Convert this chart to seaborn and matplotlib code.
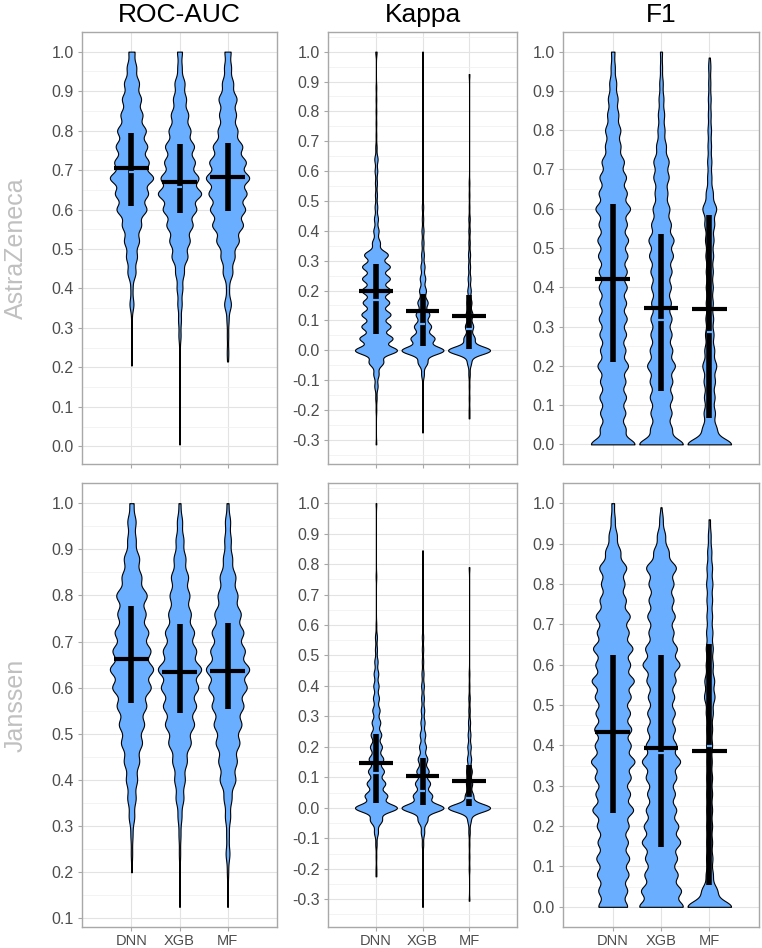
import numpy as np
import pandas as pd
import matplotlib
matplotlib.use("Agg")
import matplotlib.pyplot as plt
import seaborn as sns

sns.set_theme(style="white")
plt.rcParams['font.family'] = ['Liberation Sans', 'DejaVu Sans']
plt.rcParams['axes.unicode_minus'] = False

models = ["DNN", "XGB", "MF"]
metrics = ["ROC-AUC", "Kappa", "F1"]
companies = ["AstraZeneca", "Janssen"]

roc_az_levels = [0.00, 0.04, 0.08, 0.12, 0.16, 0.20, 0.24, 0.28, 0.32, 0.36, 0.40, 0.44, 0.48,
                 0.52, 0.56, 0.60, 0.64, 0.68, 0.72, 0.76, 0.80, 0.84, 0.88, 0.92, 0.96, 1.00]
roc_j_levels = [0.12, 0.16, 0.20, 0.24, 0.28, 0.32, 0.36, 0.40, 0.44, 0.48, 0.52, 0.56,
                0.60, 0.64, 0.68, 0.72, 0.76, 0.80, 0.84, 0.88, 0.92, 0.96, 1.00]
kappa_levels = [-0.32, -0.28, -0.24, -0.20, -0.16, -0.12, -0.08, -0.04, 0.00, 0.04, 0.08, 0.12,
                0.16, 0.20, 0.24, 0.28, 0.32, 0.36, 0.40, 0.44, 0.48, 0.52, 0.56, 0.60, 0.64,
                0.68, 0.72, 0.76, 0.80, 0.84, 0.88, 0.92, 0.96, 1.00]
f1_levels = [0.00, 0.04, 0.08, 0.12, 0.16, 0.20, 0.24, 0.28, 0.32, 0.36, 0.40, 0.44, 0.48,
             0.52, 0.56, 0.60, 0.64, 0.68, 0.72, 0.76, 0.80, 0.84, 0.88, 0.92, 0.96, 1.00]

# ---- AstraZeneca counts ----
az_roc_dnn = [0, 0, 0, 0, 0, 0, 1, 1, 1, 6, 3, 12, 16, 22, 28, 44, 48, 64, 50, 46, 42, 32, 28, 22, 14, 8]
az_roc_xgb = [0, 0, 0, 0, 0, 1, 1, 3, 4, 6, 8, 12, 22, 28, 36, 46, 60, 52, 42, 40, 30, 24, 18, 14, 6, 6]
az_roc_mf = [0, 0, 0, 0, 0, 0, 2, 2, 3, 10, 4, 14, 20, 32, 44, 50, 54, 62, 52, 42, 28, 24, 26, 16, 10, 8]
az_roc_min = [0.205, 0.005, 0.215]
az_roc_max = [1.0, 1.0, 1.0]

az_kappa_dnn = [0, 0, 0, 1, 2, 5, 8, 22, 64, 50, 44, 44, 40, 44, 42, 42, 36, 12, 8, 6, 4, 3, 3, 4, 5,
                2, 1, 1, 1, 1, 1, 0, 0, 1]
az_kappa_xgb = [0, 0, 0, 1, 1, 1, 4, 14, 62, 35, 25, 20, 15, 10, 8, 6, 4, 3, 3, 2, 2, 1, 1, 1, 1,
                0, 0, 0, 0, 0, 0, 0, 0, 0]
az_kappa_mf = [0, 0, 0, 1, 1, 1, 2, 6, 62, 16, 12, 10, 7, 5, 4, 3, 3, 2, 2, 2, 1, 1, 1, 0, 0,
               0, 0, 0, 0, 0, 0, 0, 0, 0]
az_kappa_min = [-0.315, -0.275, -0.228]
az_kappa_max = [1.0, 1.0, 0.925]

az_f1_dnn = [64, 36, 36, 38, 36, 44, 36, 38, 40, 38, 40, 40, 42, 44, 40, 50, 40, 38, 32, 22, 22, 16, 14, 10, 6, 4]
az_f1_xgb = [64, 30, 30, 32, 32, 40, 32, 30, 30, 28, 28, 30, 34, 36, 28, 24, 18, 22, 22, 14, 10, 9, 7, 5, 3, 2]
az_f1_mf = [64, 20, 16, 15, 16, 20, 14, 12, 11, 10, 10, 10, 11, 12, 14, 20, 10, 6, 6, 5, 5, 4, 4, 3, 3, 0]
az_f1_min = [0.0, 0.0, 0.0]
az_f1_max = [1.0, 1.0, 0.985]

# ---- Janssen counts ----
j_roc_dnn = [0, 0, 0, 2, 3, 8, 12, 16, 22, 30, 36, 42, 55, 62, 54, 48, 40, 44, 28, 22, 12, 12, 5]
j_roc_xgb = [0, 1, 1, 2, 3, 6, 12, 16, 22, 34, 44, 50, 56, 66, 50, 44, 34, 30, 26, 18, 12, 8, 2]
j_roc_mf = [0, 1, 2, 6, 4, 8, 12, 24, 28, 36, 42, 48, 58, 66, 52, 48, 40, 30, 24, 14, 10, 8, 2]
j_roc_min = [0.20, 0.125, 0.125]
j_roc_max = [1.0, 1.0, 1.0]

j_kappa_dnn = [0, 0, 0, 1, 1, 2, 6, 18, 64, 34, 28, 24, 22, 18, 16, 13, 11, 9, 8, 7, 5, 3, 3, 1, 0,
               0, 0, 1, 0, 0, 0, 0, 0, 0]
j_kappa_xgb = [0, 0, 1, 1, 1, 2, 5, 14, 62, 28, 22, 18, 14, 10, 8, 6, 5, 4, 4, 3, 2, 2, 2, 1, 0,
               0, 0, 0, 0, 0, 0, 0, 0, 0]
j_kappa_mf = [0, 0, 0, 1, 1, 1, 2, 5, 62, 12, 9, 8, 6, 5, 4, 3, 2, 2, 1, 1, 0, 0, 0, 0, 0,
              0, 0, 0, 0, 0, 0, 0, 0, 0]
j_kappa_min = [-0.225, -0.325, -0.305]
j_kappa_max = [1.0, 0.845, 0.79]

j_f1_dnn = [42, 42, 46, 48, 44, 46, 60, 50, 52, 64, 52, 54, 50, 52, 62, 50, 58, 46, 50, 38, 34, 40, 22, 12, 6, 3]
j_f1_xgb = [64, 58, 48, 46, 56, 50, 44, 40, 44, 56, 44, 40, 40, 38, 42, 54, 46, 36, 40, 36, 36, 44, 22, 12, 5, 0]
j_f1_mf = [64, 22, 10, 9, 8, 8, 8, 8, 8, 7, 8, 8, 10, 15, 14, 10, 10, 9, 8, 8, 9, 8, 6, 4, 1, 0]
j_f1_min = [0.0, 0.0, 0.0]
j_f1_max = [1.0, 0.99, 0.96]

# ---- summary marks: mean (black cross line), mean +/- sd (black bar), median (light tick) ----
az_roc_mean = [0.705, 0.670, 0.683]
az_roc_lo = [0.610, 0.590, 0.597]
az_roc_hi = [0.795, 0.765, 0.768]
az_roc_med = [0.695, 0.658, 0.683]
az_kappa_mean = [0.198, 0.133, 0.115]
az_kappa_lo = [0.055, 0.015, 0.005]
az_kappa_hi = [0.290, 0.190, 0.185]
az_kappa_med = [0.168, 0.087, 0.070]
az_f1_mean = [0.420, 0.348, 0.345]
az_f1_lo = [0.210, 0.135, 0.068]
az_f1_hi = [0.612, 0.535, 0.583]
az_f1_med = [0.420, 0.316, 0.287]
j_roc_mean = [0.663, 0.635, 0.637]
j_roc_lo = [0.567, 0.545, 0.553]
j_roc_hi = [0.778, 0.738, 0.740]
j_roc_med = [0.663, 0.633, 0.637]
j_kappa_mean = [0.147, 0.105, 0.087]
j_kappa_lo = [0.015, 0.008, 0.005]
j_kappa_hi = [0.243, 0.162, 0.142]
j_kappa_med = [0.113, 0.055, 0.031]
j_f1_mean = [0.432, 0.393, 0.385]
j_f1_lo = [0.232, 0.148, 0.055]
j_f1_hi = [0.625, 0.625, 0.652]
j_f1_med = [0.432, 0.381, 0.399]

panels = {
    (0, 0): (roc_az_levels, [az_roc_dnn, az_roc_xgb, az_roc_mf], az_roc_min, az_roc_max,
             az_roc_mean, az_roc_lo, az_roc_hi, az_roc_med, 0.0155),
    (0, 1): (kappa_levels, [az_kappa_dnn, az_kappa_xgb, az_kappa_mf], az_kappa_min, az_kappa_max,
             az_kappa_mean, az_kappa_lo, az_kappa_hi, az_kappa_med, 0.0135),
    (0, 2): (f1_levels, [az_f1_dnn, az_f1_xgb, az_f1_mf], az_f1_min, az_f1_max,
             az_f1_mean, az_f1_lo, az_f1_hi, az_f1_med, 0.0155),
    (1, 0): (roc_j_levels, [j_roc_dnn, j_roc_xgb, j_roc_mf], j_roc_min, j_roc_max,
             j_roc_mean, j_roc_lo, j_roc_hi, j_roc_med, 0.0155),
    (1, 1): (kappa_levels, [j_kappa_dnn, j_kappa_xgb, j_kappa_mf], j_kappa_min, j_kappa_max,
             j_kappa_mean, j_kappa_lo, j_kappa_hi, j_kappa_med, 0.0135),
    (1, 2): (f1_levels, [j_f1_dnn, j_f1_xgb, j_f1_mf], j_f1_min, j_f1_max,
             j_f1_mean, j_f1_lo, j_f1_hi, j_f1_med, 0.0155),
}

FILL = "#6AAEFF"
W, H = 762, 948
col_l = [82, 328, 563]
col_r = [277, 517, 759]
row_t = [32, 483]
row_b = [464, 927]

fig = plt.figure(figsize=(W / 100, H / 100), dpi=100)
fig.patch.set_facecolor("white")

for (r, c), (levels, counts, mins, maxs, means, los, his, meds, bw) in panels.items():
    ax = fig.add_axes([col_l[c] / W, 1 - row_b[r] / H,
                       (col_r[c] - col_l[c]) / W, (row_b[r] - row_t[r]) / H])
    for i, m in enumerate(models):
        vals = np.concatenate([[mins[i]], np.repeat(np.asarray(levels, float), counts[i]), [maxs[i]]])
        df = pd.DataFrame({"model": m, "value": vals})
        sd = vals.std(ddof=1)
        sns.violinplot(data=df, x="model", y="value", order=models, ax=ax,
                       inner=None, cut=0, density_norm="width", width=0.9,
                       color=FILL, saturation=1, linecolor="black", linewidth=0.8,
                       bw_method=bw / sd, gridsize=900)
    xs = np.arange(len(models))
    ax.vlines(xs, los, his, color="black", lw=4.0, zorder=5)
    ax.hlines(meds, xs - 0.055, xs + 0.055, color=FILL, lw=1.6, zorder=6)
    ax.hlines(means, xs - 0.36, xs + 0.36, color="black", lw=3.0, zorder=7)

    lo = min(mins)
    hi = max(maxs)
    pad = 0.05 * (hi - lo)
    y0, y1 = lo - pad, hi + pad
    ax.set_ylim(y0, y1)
    ax.set_xlim(-1.03, 3.03)
    t0 = np.ceil(round(y0 * 10, 6)) / 10
    major = np.round(np.arange(t0, y1 + 1e-9, 0.1), 1) + 0.0
    major = major[major <= y1]
    ax.set_yticks(major)
    ax.set_yticklabels([f"{(0.0 if abs(v) < 1e-9 else v):.1f}" for v in major])
    minor = np.round(np.arange(t0 - 0.05, y1 + 1e-9, 0.1), 2)
    minor = minor[(minor >= y0) & (minor <= y1)]
    ax.set_yticks(minor, minor=True)
    ax.set_xticks(xs)
    if r == 1:
        ax.set_xticklabels(models)
    else:
        ax.set_xticklabels([])
    ax.set_xlabel("")
    ax.set_ylabel("")
    ax.set_facecolor("white")
    ax.grid(which="major", axis="both", color="#E3E3E3", lw=0.8)
    ax.grid(which="minor", axis="y", color="#EFEFEF", lw=0.5)
    ax.set_axisbelow(True)
    for s in ax.spines.values():
        s.set_color("#A8A8A8")
        s.set_linewidth(1.0)
        s.set_visible(True)
    ax.tick_params(axis="both", which="major", length=3, width=0.8, color="#A8A8A8",
                   labelsize=11.5, labelcolor="#4D4D4D", pad=3, left=True, bottom=True)
    ax.tick_params(axis="x", which="major", labelsize=10.5, pad=2)
    ax.tick_params(axis="y", which="minor", length=0)

for c, met in enumerate(metrics):
    fig.text((col_l[c] + col_r[c]) / 2 / W, 1 - 15 / H, met, ha="center", va="center",
             fontsize=19, color="black")
for r, comp in enumerate(companies):
    fig.text(16 / W, 1 - (row_t[r] + row_b[r]) / 2 / H, comp, rotation=90, ha="center",
             va="center", fontsize=18, color="#C0C0C0")

fig.savefig("out.png", dpi=100, facecolor="white")
